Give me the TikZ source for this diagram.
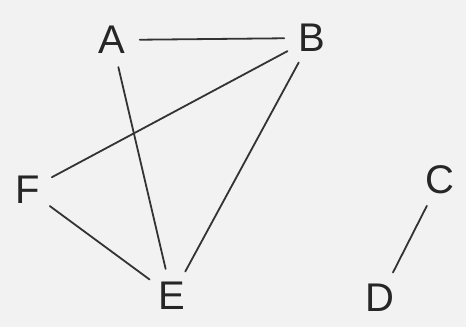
\documentclass[tikz,border=0pt]{standalone}
\usepackage{fontspec}
\setmainfont{Liberation Sans}
\begin{document}
\begin{tikzpicture}[x=1pt,y=-1pt,
  vtx/.style={circle,inner sep=6pt,font=\fontsize{40}{40}\selectfont, text=black!85},
  edge/.style={draw=black!80,line width=1.8pt,line cap=round}]
\fill[black!5] (0,0) rectangle (466,327);
\useasboundingbox (0,0) rectangle (466,327);
\node[vtx] (A) at (112,40) {A};
\node[vtx] (B) at (312,38) {B};
\node[vtx] (C) at (440,180) {C};
\node[vtx] (D) at (380,298) {D};
\node[vtx] (E) at (172,296) {E};
\node[vtx] (F) at (28,190) {F};
\draw[edge] (A) -- (B);
\draw[edge] (A) -- (E);
\draw[edge] (B) -- (E);
\draw[edge] (B) -- (F);
\draw[edge] (F) -- (E);
\draw[edge] (C) -- (D);
\end{tikzpicture}
\end{document}
